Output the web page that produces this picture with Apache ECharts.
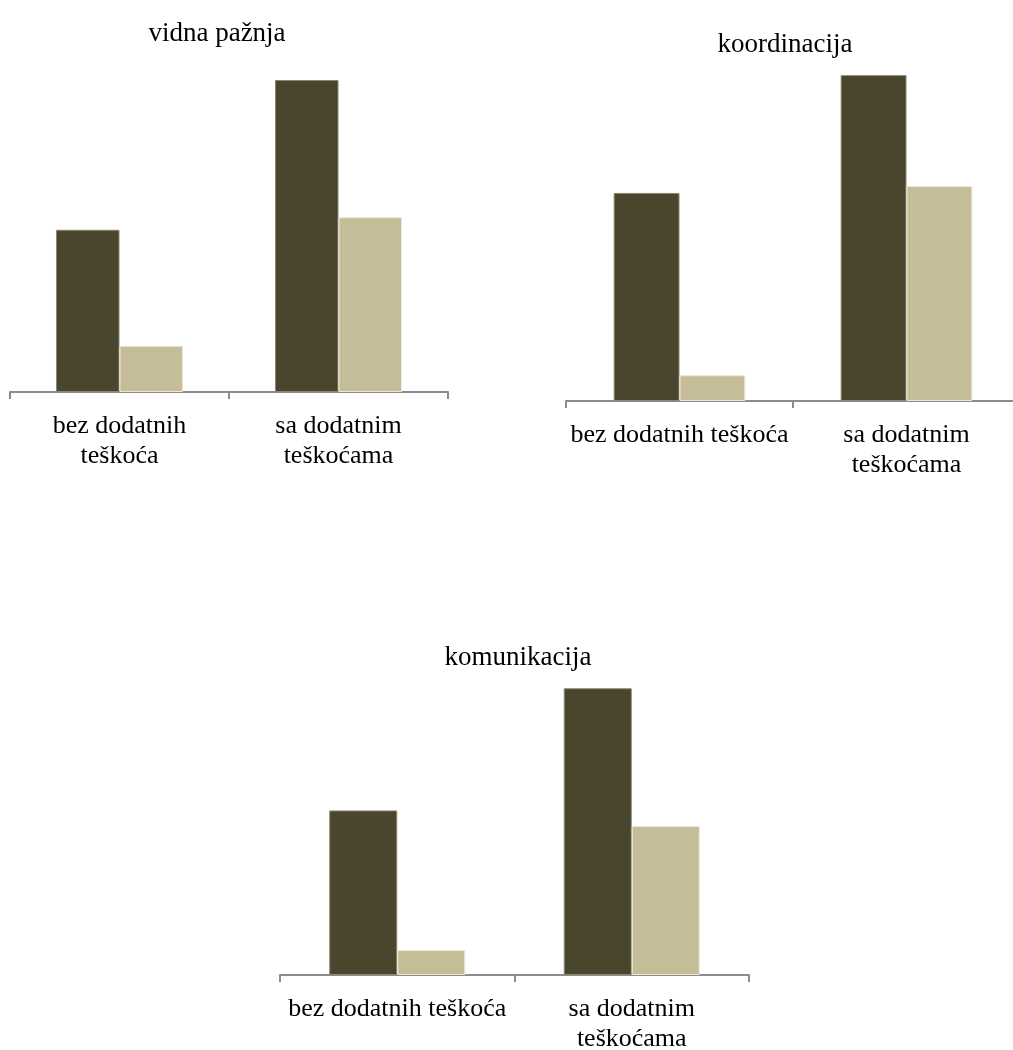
<!DOCTYPE html>
<html>
<head>
<meta charset="utf-8">
<script src="https://cdn.jsdelivr.net/npm/echarts@6/dist/echarts.min.js"></script>
<style>
	html, body { margin: 0; padding: 0; background: #fff; }
	#main { width: 1013px; height: 1050px; }
</style>
</head>
<body>
<div id="main"></div>
<script>
// podaci
var titles = ['vidna pažnja', 'koordinacija', 'komunikacija']
var categories1 = ['bez dodatnih\nteškoća', 'sa dodatnim\nteškoćama']
var categories2 = ['bez dodatnih teškoća', 'sa dodatnim\nteškoćama']
var categories3 = ['bez dodatnih teškoća', 'sa dodatnim\nteškoćama']
var darkValues1 = [26, 50]
var lightValues1 = [7.4, 28]
var darkValues2 = [33.2, 52]
var lightValues2 = [4.1, 34.3]
var darkValues3 = [26.4, 46]
var lightValues3 = [4, 23.9]

var DARK = '#4a452d'
var LIGHT = '#c4bd97'
var FONT = 'Liberation Serif'

var panels = [
	{ cats: categories1, dark: darkValues1, light: lightValues1, left: 10, width: 438, top: 17.6, height: 374.4, titleX: 212, titleY: 15 },
	{ cats: categories2, dark: darkValues2, light: lightValues2, left: 566, width: 454, top: 25, height: 376, titleX: 780, titleY: 26 },
	{ cats: categories3, dark: darkValues3, light: lightValues3, left: 280, width: 469, top: 601, height: 374, titleX: 513, titleY: 639 }
]

var myChart = echarts.init(document.getElementById('main'))

var option = {
	backgroundColor: '#fff',
	animation: false,
	title: [],
	grid: [],
	xAxis: [],
	yAxis: [],
	series: []
}

panels.forEach(function (p, i) {
	option.title.push({
		text: titles[i],
		left: p.titleX,
		top: p.titleY,
		textAlign: 'center',
		textStyle: { fontFamily: FONT, fontSize: 27, fontWeight: 'normal', color: '#000' }
	})
	option.grid.push({
		left: p.left,
		width: p.width,
		top: p.top,
		height: p.height,
		outerBoundsMode: 'none',
		containLabel: false
	})
	option.xAxis.push({
		type: 'category',
		gridIndex: i,
		data: p.cats,
		axisLine: { lineStyle: { color: '#8c8c8c', width: 2 } },
		axisTick: { show: true, length: 7, lineStyle: { color: '#8c8c8c', width: 2 } },
		axisLabel: {
			fontFamily: FONT,
			fontSize: 26,
			color: '#000',
			lineHeight: 30,
			margin: 19,
			interval: 0
		}
	})
	option.yAxis.push({
		type: 'value',
		gridIndex: i,
		min: 0,
		max: 60,
		show: false
	})
	option.series.push({
		name: 'tamno',
		type: 'bar',
		xAxisIndex: i,
		yAxisIndex: i,
		data: p.dark,
		barGap: '0%',
		barCategoryGap: '42%',
		itemStyle: { color: DARK, borderColor: '#8a8672', borderWidth: 1 }
	})
	option.series.push({
		name: 'svijetlo',
		type: 'bar',
		xAxisIndex: i,
		yAxisIndex: i,
		data: p.light,
		barGap: '0%',
		barCategoryGap: '42%',
		itemStyle: { color: LIGHT, borderColor: '#ece8d8', borderWidth: 1 }
	})
})

myChart.setOption(option)
</script>
</body>
</html>
